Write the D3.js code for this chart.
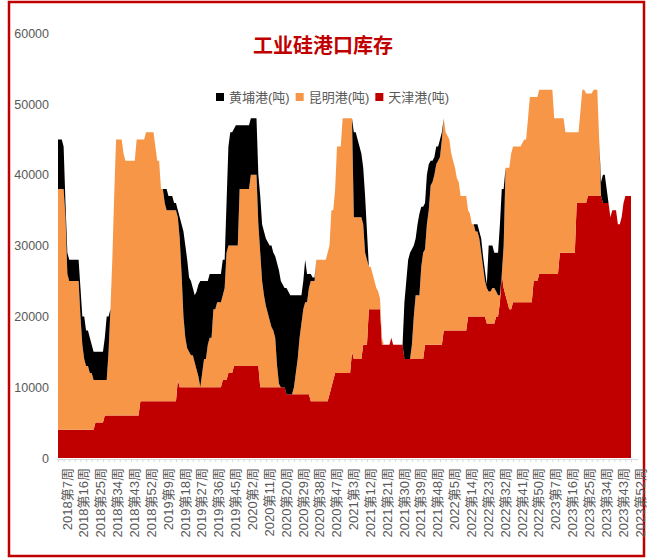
<!DOCTYPE html>
<html>
<head>
<meta charset="utf-8">
<script src="https://cdn.jsdelivr.net/npm/d3@7"></script>
<style>
  body { margin: 0; background: #fff; }
  svg text { font-family: "Liberation Sans", "Noto Sans CJK SC", sans-serif; }
</style>
</head>
<body>
<div id="chart"></div>
<script>
    // weeks covered by the chart, per year
    var yearSpans = [
      { year: 2018, first: 7, last: 52 },
      { year: 2019, first: 1, last: 52 },
      { year: 2020, first: 1, last: 53 },
      { year: 2021, first: 1, last: 52 },
      { year: 2022, first: 1, last: 52 },
      { year: 2023, first: 1, last: 52 }
    ];

    var tickLabels = [
      "2018第7周", "2018第16周", "2018第25周", "2018第34周", "2018第43周", "2018第52周",
      "2019第9周", "2019第18周", "2019第27周", "2019第36周", "2019第45周",
      "2020第2周", "2020第11周", "2020第20周", "2020第29周", "2020第38周", "2020第47周",
      "2021第3周", "2021第12周", "2021第21周", "2021第30周", "2021第39周", "2021第48周",
      "2022第5周", "2022第14周", "2022第23周", "2022第32周", "2022第41周", "2022第50周",
      "2023第7周", "2023第16周", "2023第25周", "2023第34周", "2023第43周", "2023第52周"
    ];

    var yTicks = [0, 10000, 20000, 30000, 40000, 50000, 60000];

    // 天津港(吨)
    var tianjin = [
      4000,4000,4000,4000,4000,4000,4000,4000,4000,4000,
      4000,4000,4000,4000,4000,4000,4000,4000,4000,4000,
      5000,5000,5000,5000,5000,6000,6000,6000,6000,6000,
      6000,6000,6000,6000,6000,6000,6000,6000,6000,6000,
      6000,6000,6000,6000,8000,8000,8000,8000,8000,8000,
      8000,8000,8000,8000,8000,8000,8000,8000,8000,8000,
      8000,8000,8000,8000,11000,10000,10000,10000,10000,10000,
      10000,10000,10000,10000,10000,10000,10000,10000,10000,10000,
      10000,10000,10000,10000,10000,10000,10000,10000,11000,11000,
      11000,12000,12000,12000,13000,13000,13000,13000,13000,13000,
      13000,13000,13000,13000,13000,13000,13000,13000,10000,10000,
      10000,10000,10000,10000,10000,10000,10000,10000,10000,10000,
      10000,10000,9000,9000,9000,9000,9000,9000,9000,9000,
      9000,9000,9000,9000,9000,8000,8000,8000,8000,8000,
      8000,8000,8000,8000,8000,9000,10000,11000,12000,12000,
      12000,12000,12000,12000,12000,12000,12000,15000,14000,14000,
      14000,14000,14000,16000,16000,16000,21000,21000,21000,21000,
      21000,21000,21000,16000,16000,16000,16000,16000,17000,16000,
      16000,16000,16000,16000,16000,14000,14000,14000,14000,14000,
      14000,14000,14000,14000,14000,14000,16000,16000,16000,16000,
      16000,16000,16000,16000,16000,16000,18000,18000,18000,18000,
      18000,18000,18000,18000,18000,18000,18000,18000,18000,20000,
      20000,20000,20000,20000,20000,20000,20000,20000,20000,19000,
      19000,19000,19000,19000,20000,20000,22000,26000,24000,23000,
      22000,21000,21000,22000,22000,22000,22000,22000,22000,22000,
      22000,22000,22000,22000,25000,25000,25000,26000,26000,26000,
      26000,26000,26000,26000,26000,26000,26000,26000,29000,29000,
      29000,29000,29000,29000,29000,29000,29000,36000,36000,36000,
      36000,36000,36000,37000,37000,37000,37000,37000,37000,37000,
      37000,36000,36000,36000,36000,34000,35000,35000,35000,33000,
      33000,34000,36000,37000,37000,37000,37000
    ];

    // 昆明港(吨)
    var kunming = [
      34000,34000,34000,34000,30000,22000,21000,21000,21000,21000,
      21000,21000,16000,12000,10000,9000,9000,8000,8000,7000,
      6000,6000,6000,6000,6000,5000,5000,9000,15000,22000,
      31000,39000,39000,39000,39000,37000,36000,36000,36000,36000,
      36000,36000,39000,39000,37000,37000,37000,38000,38000,38000,
      38000,38000,36000,34000,34000,30000,30000,28000,27000,27000,
      27000,27000,27000,27000,23000,21000,16000,10000,7000,5500,
      5000,4500,4500,3500,2500,1500,0,2000,4000,4000,
      6000,7000,7000,11000,11000,12000,12000,12000,12000,13000,
      18000,18000,18000,18000,17000,17000,17000,25000,25000,25000,
      25000,25000,25000,27000,27000,27000,27000,20000,19000,15000,
      13000,11500,10500,9500,8500,8000,7000,3000,500,0,
      0,0,0,0,0,0,1000,3000,5000,8000,
      10000,12000,13000,13000,15000,17000,17000,17000,20000,20000,
      20000,20000,20000,20000,21000,21000,25000,24000,26000,32000,
      32000,32000,36000,36000,36000,36000,36000,33000,20000,20000,
      20000,20000,20000,17000,13000,12000,6000,6000,5000,4000,
      3000,2500,1500,1000,0,0,0,0,0,0,
      0,0,0,0,0,0,0,0,0,2000,
      6000,9000,9000,9000,13000,15000,13500,17000,19000,22500,
      23000,24000,25500,26000,26500,29000,30000,28000,27500,27000,
      25000,24000,23000,21500,21000,19000,19000,19000,19000,15000,
      14500,13000,13000,12000,12000,11000,9000,7000,5000,5000,
      4500,4500,5000,5000,3500,3000,1000,0,6000,18000,
      19000,20000,22000,22000,22000,22000,22000,22000,22500,23000,
      23000,26000,29000,29000,26000,26000,26000,26000,26000,26000,
      26000,26000,26000,26000,26000,22000,22000,22000,19000,19000,
      19000,17000,17000,17000,17000,17000,17000,10000,10000,13000,
      16000,16000,15500,14500,14500,14500,15000,15000,15000,8000,
      0,0,0,0,0,0,0,0,0,0,
      0,0,0,0,0,0,0
    ];

    // 黄埔港(吨)
    var huangpu = [
      7000,7000,7000,6000,2000,3000,3000,3000,3000,3000,
      3000,3000,4000,4000,6000,5000,5000,5000,4000,4000,
      4000,4000,4000,4000,4000,6000,9000,5000,0,0,
      0,0,0,0,0,0,0,0,0,0,
      0,0,0,0,0,0,0,0,0,0,
      0,0,0,0,0,0,0,2000,3000,2000,
      2000,2000,1000,1000,1000,3000,7000,12000,13000,12500,
      10500,10500,9500,9500,11000,13000,15000,13000,11000,11000,
      9000,9000,9000,5000,5000,4000,4000,4000,5000,4000,
      7000,14000,16000,16000,16500,17000,17000,9000,9000,9000,
      9000,9000,9000,8000,8000,8000,8000,7000,8000,8000,
      9000,9500,10000,10500,11500,11000,11500,14500,16000,15000,
      14500,14000,15000,14500,14000,14000,13000,11000,9000,6000,
      4000,4000,6000,4000,2000,1000,500,500,0,0,
      0,0,0,0,0,0,0,0,0,0,
      0,0,0,0,0,0,0,0,12000,12000,
      11000,10000,9000,8000,8000,4000,0,0,0,0,
      0,0,0,0,0,0,0,0,0,0,
      0,0,0,0,0,8000,11000,14000,15000,13500,
      10000,8000,10000,11500,8500,6500,6500,7000,6500,3500,
      3000,2500,2500,2000,2500,1000,0,0,0,0,
      0,0,0,0,0,0,0,0,0,0,
      0,0,0,1000,1000,1000,2000,1500,1500,500,
      6500,6500,6000,5000,5500,6000,10000,12000,8000,0,
      0,0,0,0,0,0,0,0,0,0,
      0,0,0,0,0,0,0,0,0,0,
      0,0,0,0,0,0,0,0,0,0,
      0,0,0,0,0,0,0,0,0,0,
      0,0,0,0,0,0,0,0,0,0,
      2000,4000,4000,2000,0,0,0,0,0,0,
      0,0,0,0,0,0,0
    ];

    var series = [
      { key: "tianjin", name: "天津港(吨)", color: "#C00000" },
      { key: "kunming", name: "昆明港(吨)", color: "#F79646" },
      { key: "huangpu", name: "黄埔港(吨)", color: "#000000" }
    ];

    var categories = [];
    yearSpans.forEach(function (s) {
      for (var w = s.first; w <= s.last; w++) {
        categories.push(s.year + "第" + w + "周");
      }
    });

    var rows = categories.map(function (c, i) {
      return { week: c, tianjin: tianjin[i], kunming: kunming[i], huangpu: huangpu[i] };
    });

    var svg = d3.select("#chart")
                .append("svg")
                .attr("width", 654)
                .attr("height", 559)
                .style("display", "block")
                .style("background-color", "#fff");

    svg.append("rect")
       .attr("x", 9)
       .attr("y", 2)
       .attr("width", 635)
       .attr("height", 554)
       .attr("fill", "none")
       .attr("stroke", "#C00000")
       .attr("stroke-width", 2.5);

    var xScale = d3.scalePoint()
                   .domain(categories)
                   .range([58, 631]);

    var yScale = d3.scaleLinear()
                   .domain([0, 60000])
                   .range([458, 33.2]);

    var stacked = d3.stack()
                    .keys(series.map(d => d.key))(rows);

    var area = d3.area()
                 .x(d => xScale(d.data.week))
                 .y0(d => yScale(d[0]))
                 .y1(d => yScale(d[1]));

    svg.append("g")
       .selectAll("path")
       .data(stacked)
       .enter()
       .append("path")
       .attr("fill", (d, i) => series[i].color)
       .attr("d", area);

    // y axis: labels only
    var yAxis = svg.append("g")
                   .attr("transform", "translate(49, 0)")
                   .call(d3.axisLeft(yScale).tickValues(yTicks).tickSize(0).tickPadding(0).tickFormat(d3.format("d")));
    yAxis.select(".domain").remove();
    yAxis.selectAll("text")
         .attr("fill", "#595959")
         .style("font-size", "12.5px");

    // x axis line with small ticks every 3 weeks
    var xAxis = svg.append("g")
                   .attr("transform", "translate(0, 459)")
                   .call(d3.axisBottom(xScale)
                           .tickValues(categories.filter((d, i) => i % 3 === 0))
                           .tickSize(3)
                           .tickFormat(""));
    xAxis.select(".domain")
         .attr("d", "M57,0.5H638")
         .attr("stroke", "#D9D9D9");
    xAxis.selectAll(".tick line")
         .attr("stroke", "#D9D9D9");

    svg.append("g")
       .selectAll("text")
       .data(tickLabels)
       .enter()
       .append("text")
       .attr("transform", d => `translate(${xScale(d) + 9}, 468) rotate(-90)`)
       .attr("dy", "0.35em")
       .attr("text-anchor", "end")
       .attr("fill", "#595959")
       .style("font-size", "13px")
       .text(d => d);

    svg.append("text")
       .attr("x", 323)
       .attr("y", 44)
       .attr("text-anchor", "middle")
       .attr("dominant-baseline", "central")
       .attr("fill", "#C00000")
       .style("font-family", "'Noto Sans CJK SC', sans-serif")
       .style("font-size", "20px")
       .style("font-weight", "bold")
       .text("工业硅港口库存");

    // legend, in the order 黄埔 / 昆明 / 天津
    var legendX = 216;
    series.slice().reverse().forEach(function (s) {
      svg.append("rect")
         .attr("x", legendX)
         .attr("y", 93)
         .attr("width", 8)
         .attr("height", 8)
         .attr("fill", s.color);
      var t = svg.append("text")
                 .attr("x", legendX + 13)
                 .attr("y", 97)
                 .attr("dy", "0.35em")
                 .attr("fill", "#595959")
                 .style("font-size", "13px")
                 .text(s.name);
      legendX += 13 + t.node().getComputedTextLength() + 6;
    });
</script>
</body>
</html>
